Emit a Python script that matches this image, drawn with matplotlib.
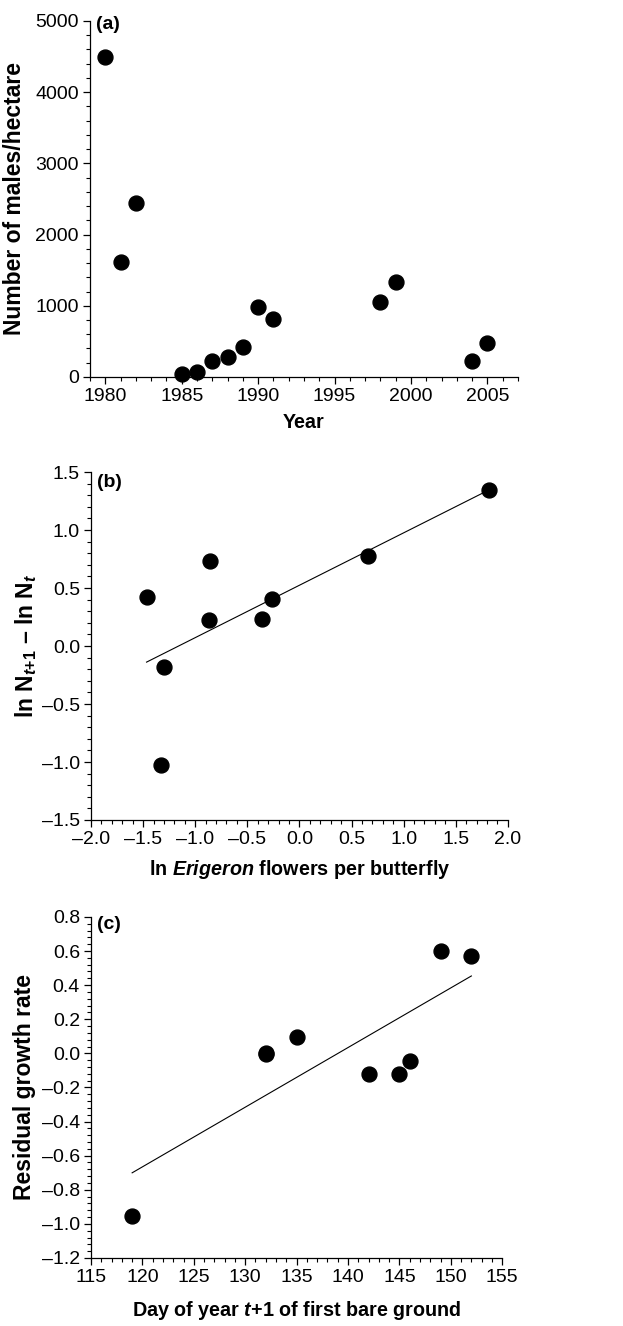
import numpy as np
import matplotlib
matplotlib.use('Agg')
import matplotlib.pyplot as plt
from matplotlib import font_manager
from matplotlib.ticker import MultipleLocator, FuncFormatter

plt.rcParams['font.family'] = ['Liberation Sans', 'DejaVu Sans']
plt.rcParams['mathtext.fontset'] = 'custom'
plt.rcParams['mathtext.rm'] = 'Liberation Sans:bold'
plt.rcParams['mathtext.bf'] = 'Liberation Sans:bold'
plt.rcParams['mathtext.it'] = 'Liberation Sans:bold:italic'

# panel (a): density through time
years = [1980, 1981, 1982, 1985, 1986, 1987, 1988, 1989, 1990, 1991, 1998, 1999, 2004, 2005]
males_per_ha = [4490, 1610, 2450, 35, 65, 220, 280, 420, 980, 810, 1055, 1335, 220, 475]

# panel (b): growth rate vs flowers per butterfly
ln_flowers = [-1.467, -1.30, -1.326, -0.859, -0.866, -0.355, -0.259, 0.655, 1.824]
growth_b = [0.427, -0.18, -1.03, 0.729, 0.226, 0.237, 0.407, 0.772, 1.342]

# panel (c): residual growth vs snowmelt day
bare_day = [119, 132, 132, 135, 142, 145, 146, 149, 152]
resid_growth = [-0.952, 0.002, -0.005, 0.096, -0.119, -0.119, -0.045, 0.599, 0.569]

# tick labels in the original look condensed; use the narrow face if we have it
try:
    font_manager.findfont(font_manager.FontProperties(family='Liberation Sans Narrow'),
                          fallback_to_default=False)
    tick_family, tick_size = 'Liberation Sans Narrow', 16.5
except Exception:
    tick_family, tick_size = 'Liberation Sans', 14

LAB = 14.2
YLAB = 16.5


def minus_fmt(dec):
    def f(v, pos):
        return f'{v:.{dec}f}'.replace('-', '\u2013')
    return FuncFormatter(f)


def style_axes(ax):
    for side in ['top', 'right']:
        ax.spines[side].set_visible(False)
    for side in ['left', 'bottom']:
        ax.spines[side].set_linewidth(0.9)
    ax.tick_params(which='major', direction='out', length=5, width=0.9, pad=3,
                   labelsize=tick_size, labelfontfamily=tick_family)
    ax.tick_params(which='minor', direction='out', length=3, width=0.8)


def fit_line(ax, x, y):
    x = np.array(x)
    slope, icpt = np.polyfit(x, y, 1)
    xs = np.array([x.min(), x.max()])
    ax.plot(xs, icpt + slope * xs, color='black', lw=0.8)


fig = plt.figure(figsize=(6.23, 13.26), dpi=100)
msize = 115

# (a)
ax1 = fig.add_axes([0.1445, 0.7157, 0.687, 0.2685])
ax1.scatter(years, males_per_ha, s=msize, color='black', clip_on=False, zorder=3)
ax1.set_xlim(1979, 2007)
ax1.set_ylim(0, 5000)
ax1.xaxis.set_major_locator(MultipleLocator(5))
ax1.xaxis.set_minor_locator(MultipleLocator(1))
ax1.yaxis.set_major_locator(MultipleLocator(1000))
ax1.yaxis.set_minor_locator(MultipleLocator(200))
style_axes(ax1)
ax1.set_xlabel('Year', fontsize=LAB, fontweight='bold', labelpad=6)
ax1.set_ylabel('Number of males/hectare', fontsize=YLAB, fontweight='bold', labelpad=7)
ax1.text(0.015, 0.989, '(a)', transform=ax1.transAxes, fontsize=14, fontweight='bold', va='center')

# (b)
ax2 = fig.add_axes([0.1461, 0.3816, 0.669, 0.2624])
ax2.scatter(ln_flowers, growth_b, s=msize, color='black', zorder=3)
fit_line(ax2, ln_flowers, growth_b)
ax2.set_xlim(-2.0, 2.0)
ax2.set_ylim(-1.5, 1.5)
ax2.xaxis.set_major_locator(MultipleLocator(0.5))
ax2.xaxis.set_minor_locator(MultipleLocator(0.1))
ax2.yaxis.set_major_locator(MultipleLocator(0.5))
ax2.yaxis.set_minor_locator(MultipleLocator(0.1))
ax2.xaxis.set_major_formatter(minus_fmt(1))
ax2.yaxis.set_major_formatter(minus_fmt(1))
style_axes(ax2)
ax2.set_xlabel('ln $\\it{Erigeron}$ flowers per butterfly', fontsize=LAB, fontweight='bold', labelpad=7)
ax2.set_ylabel('ln N$_{\\it{t}\\rm{+1}}$ \u2013 ln N$_{\\it{t}}$', fontsize=YLAB, fontweight='bold', labelpad=2)
ax2.text(0.015, 0.971, '(b)', transform=ax2.transAxes, fontsize=14, fontweight='bold', va='center')

# (c)
ax3 = fig.add_axes([0.1461, 0.0513, 0.660, 0.2572])
ax3.scatter(bare_day, resid_growth, s=msize, color='black', zorder=3)
fit_line(ax3, bare_day, resid_growth)
ax3.set_xlim(115, 155)
ax3.set_ylim(-1.2, 0.8)
ax3.xaxis.set_major_locator(MultipleLocator(5))
ax3.xaxis.set_minor_locator(MultipleLocator(1))
ax3.yaxis.set_major_locator(MultipleLocator(0.2))
ax3.yaxis.set_minor_locator(MultipleLocator(0.04))
ax3.yaxis.set_major_formatter(minus_fmt(1))
style_axes(ax3)
ax3.set_xlabel('Day of year $\\it{t}$+1 of first bare ground', fontsize=LAB, fontweight='bold', labelpad=9)
ax3.set_ylabel('Residual growth rate', fontsize=YLAB, fontweight='bold', labelpad=4)
ax3.text(0.015, 0.977, '(c)', transform=ax3.transAxes, fontsize=14, fontweight='bold', va='center')

fig.savefig('out.png', dpi=100)
